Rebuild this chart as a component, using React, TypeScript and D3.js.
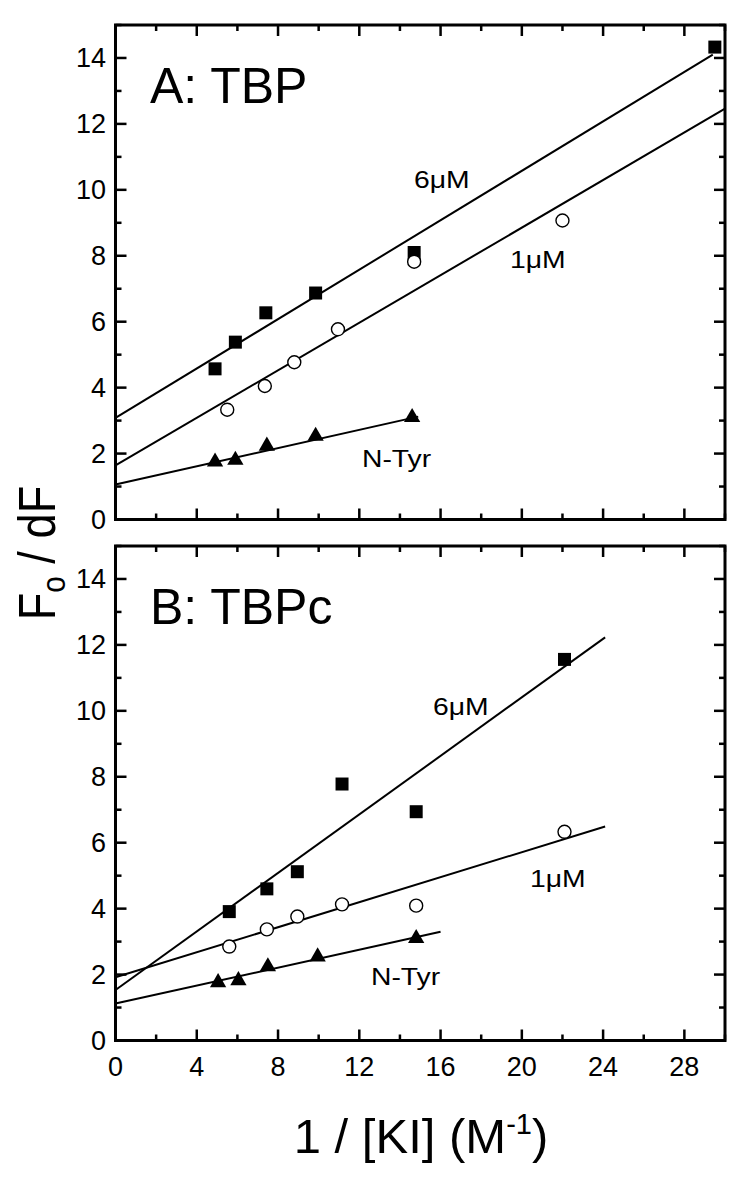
import React from "react";
import * as d3 from "d3";

// ---------- data ----------
// Panel A: TBP
const aSquareX = [4.9, 5.9, 7.4, 9.85, 14.7, 29.5];
const aSquareY = [4.57, 5.38, 6.27, 6.87, 8.1, 14.33];
const aCircleX = [5.5, 7.35, 8.8, 10.95, 14.7, 22.0];
const aCircleY = [3.33, 4.05, 4.77, 5.77, 7.82, 9.07];
const aTriX = [4.9, 5.9, 7.45, 9.85, 14.6];
const aTriY = [1.75, 1.8, 2.23, 2.53, 3.1];
// fit lines: [x0, y0, x1, y1]
const aFit6 = [0, 3.08, 29.4, 14.1];
const aFit1 = [0, 1.64, 30, 12.46];
const aFitN = [0, 1.06, 14.9, 3.12];

// Panel B: TBPc
const bSquareX = [5.6, 7.45, 8.95, 11.15, 14.8, 22.1];
const bSquareY = [3.91, 4.6, 5.12, 7.78, 6.94, 11.56];
const bCircleX = [5.6, 7.45, 8.95, 11.15, 14.8, 22.1];
const bCircleY = [2.85, 3.37, 3.76, 4.13, 4.09, 6.33];
const bTriX = [5.05, 6.05, 7.5, 9.95, 14.8];
const bTriY = [1.76, 1.82, 2.24, 2.54, 3.1];
const bFit6 = [0, 1.53, 24.1, 12.23];
const bFit1 = [0, 1.92, 24.1, 6.49];
const bFitN = [0, 1.12, 16, 3.3];

const xMajor = [0, 4, 8, 12, 16, 20, 24, 28];
const xMinor = [2, 6, 10, 14, 18, 22, 26, 30];
const yMajor = [0, 2, 4, 6, 8, 10, 12, 14];
const yMinor = [1, 3, 5, 7, 9, 11, 13, 15];

const FONT = "'Liberation Sans', Arial, sans-serif";

const LEFT = 115.5;
const RIGHT = 725;

type PanelProps = {
  top: number;
  bottom: number;
  title: string;
  sq: [number[], number[]];
  ci: [number[], number[]];
  tr: [number[], number[]];
  fits: number[][];
  labels: { text: string; x: number; y: number }[];
  showX: boolean;
};

function Panel({ top, bottom, title, sq, ci, tr, fits, labels, showX }: PanelProps) {
  const x = d3.scaleLinear().domain([0, 30]).range([LEFT, RIGHT]);
  const y = d3.scaleLinear().domain([0, 15]).range([bottom, top]);
  const tri = d3.symbol(d3.symbolTriangle, 115)()!;
  const sqPath = d3.symbol(d3.symbolSquare, 169)()!;
  const majorLen = 11;
  const minorLen = 6;
  return (
    <g>
      {/* ticks */}
      {xMajor.map((v) => (
        <g key={"xM" + v}>
          <line x1={x(v)} x2={x(v)} y1={bottom} y2={bottom - majorLen} stroke="#000" strokeWidth={2.5} />
          <line x1={x(v)} x2={x(v)} y1={top} y2={top + majorLen} stroke="#000" strokeWidth={2.5} />
        </g>
      ))}
      {xMinor.map((v) => (
        <g key={"xm" + v}>
          <line x1={x(v)} x2={x(v)} y1={bottom} y2={bottom - minorLen} stroke="#000" strokeWidth={2.5} />
          <line x1={x(v)} x2={x(v)} y1={top} y2={top + minorLen} stroke="#000" strokeWidth={2.5} />
        </g>
      ))}
      {yMajor.map((v) => (
        <g key={"yM" + v}>
          <line x1={LEFT} x2={LEFT + majorLen} y1={y(v)} y2={y(v)} stroke="#000" strokeWidth={2.5} />
          <line x1={RIGHT} x2={RIGHT - majorLen} y1={y(v)} y2={y(v)} stroke="#000" strokeWidth={2.5} />
          <text x={106} y={y(v)} dy="0.35em" textAnchor="end" fontSize={27} fontFamily={FONT}>
            {v}
          </text>
        </g>
      ))}
      {yMinor.map((v) => (
        <g key={"ym" + v}>
          <line x1={LEFT} x2={LEFT + minorLen} y1={y(v)} y2={y(v)} stroke="#000" strokeWidth={2.5} />
          <line x1={RIGHT} x2={RIGHT - minorLen} y1={y(v)} y2={y(v)} stroke="#000" strokeWidth={2.5} />
        </g>
      ))}
      {showX &&
        xMajor.map((v) => (
          <text key={"xl" + v} x={x(v)} y={bottom + 35} textAnchor="middle" fontSize={27} fontFamily={FONT}>
            {v}
          </text>
        ))}
      {/* frame */}
      <rect x={LEFT} y={top} width={RIGHT - LEFT} height={bottom - top} fill="none" stroke="#000" strokeWidth={3} />
      {/* fit lines */}
      {fits.map((f, i) => (
        <line key={"f" + i} x1={x(f[0])} y1={y(f[1])} x2={x(f[2])} y2={y(f[3])} stroke="#000" strokeWidth={2} />
      ))}
      {/* markers */}
      {sq[0].map((v, i) => (
        <path key={"s" + i} d={sqPath} transform={`translate(${x(v)},${y(sq[1][i])})`} fill="#000" />
      ))}
      {ci[0].map((v, i) => (
        <circle key={"c" + i} cx={x(v)} cy={y(ci[1][i])} r={6.5} fill="#fff" stroke="#000" strokeWidth={1.4} />
      ))}
      {tr[0].map((v, i) => (
        <path key={"t" + i} d={tri} transform={`translate(${x(v)},${y(tr[1][i])})`} fill="#000" />
      ))}
      {/* text */}
      <text x={150} y={top + 78} fontSize={50} fontFamily={FONT}>
        {title}
      </text>
      {labels.map((l, i) => (
        <text
          key={"l" + i}
          transform={`translate(${l.x},${l.y}) scale(1.18,1)`}
          fontSize={24}
          fontFamily={FONT}
        >
          {l.text}
        </text>
      ))}
    </g>
  );
}

export default function App() {
  return (
    <svg width={750} height={1185} style={{ display: "block", position: "absolute", left: 0, top: 0, background: "#fff" }}>
      <rect x={0} y={0} width={750} height={1185} fill="#fff" />
      <Panel
        top={25}
        bottom={519.5}
        title="A: TBP"
        sq={[aSquareX, aSquareY]}
        ci={[aCircleX, aCircleY]}
        tr={[aTriX, aTriY]}
        fits={[aFit6, aFit1, aFitN]}
        labels={[
          { text: "6\u03bcM", x: 414, y: 188 },
          { text: "1\u03bcM", x: 510, y: 268 },
          { text: "N-Tyr", x: 362, y: 467 },
        ]}
        showX={false}
      />
      <Panel
        top={546}
        bottom={1040.5}
        title="B: TBPc"
        sq={[bSquareX, bSquareY]}
        ci={[bCircleX, bCircleY]}
        tr={[bTriX, bTriY]}
        fits={[bFit6, bFit1, bFitN]}
        labels={[
          { text: "6\u03bcM", x: 433, y: 715 },
          { text: "1\u03bcM", x: 530, y: 887 },
          { text: "N-Tyr", x: 371, y: 985 },
        ]}
        showX={true}
      />
      {/* y axis title */}
      <text
        transform="translate(55,553) rotate(-90) scale(0.87,1)"
        textAnchor="middle"
        fontSize={52}
        fontFamily={FONT}
      >
        F<tspan fontSize={34} dy={10}>o</tspan>
        <tspan dy={-10}> / dF</tspan>
      </text>
      {/* x axis title */}
      <text x={421} y={1153} textAnchor="middle" fontSize={49} fontFamily={FONT}>
        1 / [KI] (M<tspan fontSize={29} dy={-19}>-1</tspan>
        <tspan dy={19}>)</tspan>
      </text>
    </svg>
  );
}
